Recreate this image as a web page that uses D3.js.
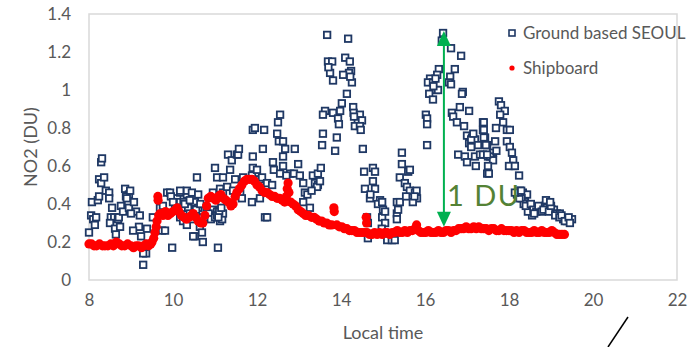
<!DOCTYPE html>
<html>
<head>
<meta charset="utf-8">
<script src="https://cdn.jsdelivr.net/npm/d3@7"></script>
<style>
  body { margin: 0; background: #fff; }
  text { font-family: Lato, "Liberation Sans", sans-serif; fill: #595959; }
</style>
</head>
<body>
<div id="chart"></div>
<script>
const width = 693,
  height = 347;
const margin = { top: 14, right: 14, bottom: 67, left: 89 };

// ground based SEOUL, [local time, NO2 DU]
const ground = [
  [8.0,0.25],[8.05,0.34],[8.1,0.32],[8.14,0.29],[8.17,0.33],[8.07,0.41],[8.21,0.42],[8.24,0.44],[8.24,0.53],[8.29,0.51],
  [8.36,0.54],[8.29,0.62],[8.31,0.64],[8.4,0.47],[8.48,0.46],[8.48,0.43],[8.55,0.38],[8.52,0.33],[8.6,0.33],[8.5,0.3],
  [8.69,0.32],[8.62,0.27],[8.64,0.24],[8.71,0.33],[8.76,0.39],[8.81,0.36],[8.86,0.48],[8.93,0.41],[8.95,0.45],[8.95,0.38],
  [9.07,0.41],[9.12,0.36],[9.0,0.35],[8.88,0.44],[8.74,0.28],[9.19,0.28],[9.24,0.23],[9.29,0.08],[9.36,0.14],[9.29,0.14],
  [9.43,0.19],[9.52,0.33],[9.21,0.34],[9.38,0.27],[9.05,0.26],[8.9,0.43],[8.98,0.47],
  [9.69,0.38],[9.76,0.39],[9.74,0.26],[9.81,0.26],[9.86,0.46],[9.93,0.46],[9.98,0.17],[10.1,0.43],[10.17,0.46],
  [10.17,0.41],[10.05,0.38],[10.21,0.38],[10.17,0.33],[10.24,0.31],[10.33,0.45],[10.33,0.47],[10.36,0.38],[10.33,0.29],[10.45,0.46],
  [10.45,0.32],[10.52,0.41],[10.52,0.23],[10.48,0.23],[10.57,0.54],[10.6,0.45],[10.6,0.38],[10.64,0.28],[10.69,0.25],[10.71,0.2],
  [10.71,0.33],[10.81,0.33],[10.93,0.37],[10.95,0.34],[10.95,0.46],[11.0,0.59],[11.05,0.54],[11.07,0.17],[11.12,0.48],[11.12,0.37],
  [11.12,0.31],[11.17,0.32],[11.19,0.35],[11.19,0.46],[11.19,0.54],[11.29,0.49],[11.31,0.66],[11.36,0.58],[11.4,0.63],[11.43,0.47],
  [11.48,0.53],[11.52,0.66],[11.55,0.66],[11.57,0.69],[11.6,0.46],[11.64,0.43],[11.67,0.54],[11.88,0.55],[11.88,0.41],[11.9,0.59],
  [11.9,0.65],[11.9,0.79],[11.95,0.8],[12.0,0.58],[12.07,0.53],[12.07,0.43],[12.12,0.54],[12.14,0.69],[12.17,0.79],[12.19,0.33],
  [12.24,0.51],[12.24,0.33],[12.36,0.5],[12.38,0.62],[12.4,0.58],[12.48,0.77],[12.5,0.83],[12.55,0.87],[12.52,0.73],[12.62,0.73],
  [12.62,0.65],[12.67,0.69],[12.55,0.56],[12.62,0.6],[12.79,0.56],[12.7,0.55],[10.4,0.35],[10.25,0.41],[9.95,0.44],[10.0,0.41],
  [10.28,0.4],[10.4,0.42],[10.55,0.37],[10.65,0.4],[10.8,0.38],[10.85,0.35],[10.9,0.32],[11.0,0.33],[11.05,0.36],[10.17,0.47],
  [11.05,0.34],[11.1,0.36],[11.15,0.38],[11.08,0.33],
  [12.9,0.69],[12.98,0.61],[12.88,0.56],[13.02,0.55],[13.1,0.51],[13.14,0.46],[13.1,0.41],[13.26,0.38],[13.33,0.55],[13.45,0.56],
  [13.52,0.59],[13.38,0.51],[13.45,0.5],[13.43,0.49],[13.57,0.77],[13.55,0.71],[13.2,0.45],[13.3,0.47],[13.5,0.52],
  [13.67,1.29],[14.17,1.27],[13.69,1.15],[13.79,1.15],[13.74,1.09],[13.81,1.05],[14.1,1.17],[14.21,1.15],[14.24,1.1],[14.19,1.09],
  [14.05,1.08],[14.26,1.04],[14.14,0.98],[14.02,0.93],[13.98,0.89],[13.62,0.89],[13.57,0.87],[13.81,0.88],[13.93,0.85],[13.95,0.82],
  [14.29,0.91],[14.3,0.88],[14.45,0.87],[14.4,0.84],[14.5,0.84],[14.33,0.81],[14.45,0.81],[13.9,0.75],[13.86,0.68],[14.52,0.69],
  [13.7,1.12],[14.22,1.07],[14.31,0.86],[14.47,0.79],
  [14.55,0.57],[14.76,0.59],[14.81,0.57],[14.76,0.52],[14.57,0.48],[14.81,0.48],[14.69,0.43],[14.93,0.42],[14.88,0.4],[14.98,0.41],
  [14.62,0.33],[14.64,0.3],[14.64,0.22],[14.98,0.33],[15.05,0.3],[15.1,0.21],[15.21,0.21],[15.33,0.35],[15.33,0.41],[14.7,0.45],
  [15.0,0.37],[15.05,0.36],[14.97,0.27],
  [15.45,0.67],[15.45,0.61],[15.4,0.54],[15.52,0.51],[15.6,0.57],[15.64,0.58],[15.57,0.49],[15.64,0.47],[15.76,0.46],[15.81,0.43],
  [15.71,0.41],[15.4,0.41],[15.36,0.37],[15.33,0.32],[15.28,0.21],[15.55,0.44],[15.8,0.47],[15.75,0.44],
  [16.43,1.3],[16.4,1.26],[16.62,1.22],[16.86,1.18],[16.71,1.11],[16.33,1.11],[16.29,1.08],[16.12,1.06],[16.07,1.04],[16.19,1.04],
  [16.26,1.0],[16.31,1.0],[16.1,0.98],[16.19,0.95],[16.6,1.07],[16.57,1.04],[16.62,1.03],[16.9,0.99],[16.88,0.98],[16.83,0.91],
  [17.05,0.89],[16.64,0.88],[16.67,0.86],[16.76,0.83],[16.93,0.81],[17.38,0.83],[17.38,0.79],[17.0,0.76],[17.12,0.75],[17.05,0.72],
  [17.19,0.74],[17.26,0.71],[17.43,0.75],[17.48,0.71],[16.79,0.66],[16.95,0.65],[17.0,0.62],[17.19,0.65],[17.31,0.66],[17.21,0.6],
  [17.38,0.66],[17.5,0.65],[17.48,0.56],[16.02,0.87],[16.05,0.85],[16.05,0.82],[16.05,0.71],[16.2,1.02],[16.25,1.06],[17.1,0.74],
  [17.15,0.77],[17.1,0.7],
  [17.76,0.94],[17.81,0.92],[17.9,0.89],[17.79,0.87],[17.86,0.83],[17.69,0.8],[17.95,0.79],[18.02,0.79],[17.4,0.83],[17.4,0.79],
  [17.4,0.75],[17.45,0.71],[17.67,0.73],[17.95,0.73],[18.02,0.7],[18.07,0.67],[17.62,0.67],[17.55,0.65],[17.62,0.63],[17.48,0.66],
  [17.5,0.6],[17.52,0.56],[18.1,0.63],[18.1,0.6],[18.0,0.6],[18.14,0.6],[18.24,0.55],[17.7,0.68],
  [18.19,0.45],[18.26,0.47],[18.33,0.46],[18.43,0.45],[18.38,0.41],[18.5,0.38],[18.62,0.38],[18.74,0.38],[18.86,0.39],[18.88,0.42],
  [18.9,0.38],[19.02,0.37],[19.07,0.37],[19.14,0.35],[19.21,0.35],[19.29,0.32],[19.38,0.31],[19.5,0.32],[18.55,0.34],[18.45,0.36],
  [18.3,0.43],[18.35,0.4],[18.4,0.39],[18.52,0.4],[18.58,0.37],[18.65,0.36],[18.7,0.39],[18.78,0.36],[18.82,0.37],[18.95,0.36],
  [19.0,0.39],[19.1,0.34],[19.2,0.33],[19.25,0.34],[19.33,0.31],[19.42,0.33],[19.45,0.3],[18.25,0.43],[18.22,0.46],[18.98,0.41],
  [18.6,0.35],[18.14,0.46],[18.29,0.47]
];

// shipboard, [local time, NO2 DU]
const ship = [
  [8.0,0.19],[8.06,0.19],[8.12,0.18],[8.18,0.18],[8.25,0.19],[8.32,0.18],[8.38,0.18],[8.45,0.18],[8.52,0.19],[8.58,0.18],
  [8.65,0.2],[8.72,0.19],[8.78,0.18],[8.85,0.18],[8.92,0.19],[9.0,0.18],[9.06,0.17],[9.12,0.18],[9.18,0.18],[9.25,0.17],
  [9.3,0.18],[9.36,0.19],[9.42,0.18],[9.47,0.19],[9.5,0.2],[9.54,0.22],[9.57,0.25],[9.6,0.28],[9.62,0.31],[9.64,0.44],
  [9.645,0.42],[9.66,0.34],[9.7,0.35],[9.76,0.34],[9.82,0.36],[9.88,0.34],[9.94,0.35],[10.0,0.36],[10.06,0.37],[10.1,0.38],
  [10.14,0.36],[10.2,0.34],[10.26,0.33],[10.32,0.32],[10.38,0.33],[10.44,0.34],[10.48,0.35],[10.54,0.33],[10.6,0.31],[10.66,0.3],
  [10.71,0.3],[10.76,0.34],[10.8,0.39],[10.84,0.43],[10.9,0.44],[10.96,0.43],[11.02,0.42],[11.08,0.44],[11.14,0.45],[11.2,0.43],
  [11.26,0.42],[11.32,0.41],[11.38,0.39],[11.43,0.4],[11.48,0.44],[11.52,0.46],[11.58,0.48],[11.64,0.5],[11.7,0.52],[11.76,0.53],
  [11.82,0.53],[11.88,0.53],[11.94,0.52],[12.0,0.5],[12.06,0.49],[12.12,0.47],[12.18,0.46],[12.24,0.46],[12.3,0.45],[12.36,0.44],
  [12.42,0.44],[12.48,0.43],[12.54,0.43],[12.6,0.42],[12.66,0.41],[12.7,0.44],[12.72,0.48],[12.74,0.51],[12.76,0.46],[12.8,0.41],
  [12.86,0.4],[12.92,0.39],[12.98,0.37],[13.04,0.36],[13.1,0.35],[13.16,0.34],[13.22,0.34],[13.3,0.33],[13.36,0.33],[13.42,0.32],
  [13.48,0.31],[13.54,0.31],[13.6,0.3],[13.66,0.3],[13.72,0.29],[13.78,0.29],[13.83,0.38],[13.84,0.36],[13.9,0.29],[13.96,0.28],
  [14.02,0.28],[14.08,0.27],[14.14,0.27],[14.2,0.26],[14.26,0.26],[14.32,0.26],[14.38,0.25],[14.44,0.25],[14.5,0.25],[14.56,0.25],
  [14.6,0.33],[14.61,0.3],[14.62,0.25],[14.68,0.24],[14.74,0.24],[14.8,0.25],[14.86,0.24],[14.92,0.25],[14.98,0.24],[15.04,0.25],
  [15.1,0.25],[15.16,0.24],[15.22,0.25],[15.28,0.25],[15.34,0.26],[15.4,0.25],[15.46,0.25],[15.52,0.26],[15.58,0.25],[15.64,0.26],
  [15.7,0.26],[15.76,0.27],[15.8,0.29],[15.84,0.26],[15.9,0.25],[15.96,0.25],[16.02,0.25],[16.08,0.26],[16.14,0.25],[16.2,0.25],
  [16.26,0.25],[16.32,0.26],[16.38,0.25],[16.44,0.25],[16.5,0.26],[16.56,0.26],[16.62,0.25],[16.68,0.26],[16.74,0.26],[16.8,0.27],
  [16.86,0.27],[16.92,0.27],[16.98,0.28],[17.04,0.27],[17.1,0.27],[17.16,0.28],[17.22,0.27],[17.28,0.28],[17.34,0.27],[17.4,0.27],
  [17.46,0.27],[17.52,0.26],[17.58,0.27],[17.64,0.27],[17.7,0.26],[17.76,0.26],[17.82,0.27],[17.88,0.26],[17.94,0.26],[18.0,0.26],
  [18.06,0.26],[18.12,0.25],[18.18,0.26],[18.24,0.25],[18.3,0.26],[18.36,0.26],[18.42,0.25],[18.48,0.25],[18.54,0.25],[18.6,0.26],
  [18.66,0.25],[18.72,0.25],[18.78,0.26],[18.84,0.25],[18.9,0.25],[18.96,0.25],[19.02,0.26],[19.08,0.25],[19.14,0.24],[19.2,0.24],
  [19.26,0.24],[19.32,0.24]
];

const xTicks = [8, 10, 12, 14, 16, 18, 20, 22];
const yTicks = [0, 0.2, 0.4, 0.6, 0.8, 1, 1.2, 1.4];
const seriesNames = ["Ground based SEOUL", "Shipboard"];

// "1 DU" annotation
const arrowTime = 16.45;
const arrowRange = [0.28, 1.31];
const arrowLabel = "1 DU";

const x = d3.scaleLinear().domain([8, 22]).range([margin.left, width - margin.right - 2]);
const y = d3.scaleLinear().domain([0, 1.4]).range([height - margin.bottom, margin.top]);

const svg = d3
  .select("#chart")
  .append("svg")
  .attr("width", width)
  .attr("height", height);

// plot frame
svg
  .append("rect")
  .attr("x", x(8))
  .attr("y", y(1.4))
  .attr("width", x(22) - x(8))
  .attr("height", y(0) - y(1.4))
  .attr("fill", "none")
  .attr("stroke", "#d9d9d9")
  .attr("stroke-width", 1.5);

const xAxis = svg
  .append("g")
  .attr("transform", `translate(0,${y(0)})`)
  .call(d3.axisBottom(x).tickValues(xTicks).tickSize(0).tickPadding(14).tickFormat(d3.format("d")));
xAxis.select(".domain").remove();
xAxis.selectAll("text").style("font-size", "17px").attr("fill", "#595959");

const yAxis = svg
  .append("g")
  .attr("transform", `translate(${x(8)},0)`)
  .call(d3.axisLeft(y).tickValues(yTicks).tickSize(0).tickPadding(18).tickFormat((d) => String(d)));
yAxis.select(".domain").remove();
yAxis.selectAll("text").style("font-size", "17px").attr("fill", "#595959");

svg
  .append("text")
  .attr("x", (x(8) + x(22)) / 2)
  .attr("y", 339)
  .attr("text-anchor", "middle")
  .style("font-size", "18px")
  .text("Local time");

svg
  .append("text")
  .attr("transform", `translate(37,${(y(0) + y(1.4)) / 2}) rotate(-90)`)
  .attr("text-anchor", "middle")
  .style("font-size", "18px")
  .text("NO2 (DU)");

// ground based squares
svg
  .selectAll(".ground")
  .data(ground)
  .enter()
  .append("rect")
  .attr("class", "ground")
  .attr("x", (d) => x(d[0]) - 3.25)
  .attr("y", (d) => y(d[1]) - 3.25)
  .attr("width", 6.5)
  .attr("height", 6.5)
  .attr("fill", "#fff")
  .attr("stroke", "#1f3864")
  .attr("stroke-width", 1.8);

// shipboard dots
svg
  .selectAll(".ship")
  .data(ship)
  .enter()
  .append("circle")
  .attr("class", "ship")
  .attr("cx", (d) => x(d[0]))
  .attr("cy", (d) => y(d[1]))
  .attr("r", 4.6)
  .attr("fill", "#ff0000");

// 1 DU arrow
const green = "#00b050";
svg
  .append("line")
  .attr("x1", x(arrowTime))
  .attr("x2", x(arrowTime))
  .attr("y1", y(arrowRange[0]) - 12)
  .attr("y2", y(arrowRange[1]) + 12)
  .attr("stroke", green)
  .attr("stroke-width", 2);
[[arrowRange[1], 1], [arrowRange[0], -1]].forEach(([v, dir]) => {
  const ax = x(arrowTime),
    ay = y(v);
  svg
    .append("path")
    .attr("d", `M${ax},${ay} L${ax - 7},${ay + dir * 15} L${ax + 7},${ay + dir * 15} Z`)
    .attr("fill", green);
});
svg
  .append("text")
  .attr("x", x(arrowTime) + 3)
  .attr("y", y(0.39))
  .style("font-size", "29px")
  .style("letter-spacing", "1.5px")
  .style("fill", "#548235")
  .text(arrowLabel);

// legend
const legend = svg.append("g").attr("transform", "translate(512,33)");
legend
  .append("rect")
  .attr("x", -3)
  .attr("y", -3)
  .attr("width", 6)
  .attr("height", 6)
  .attr("fill", "#fff")
  .attr("stroke", "#1f3864")
  .attr("stroke-width", 1.6);
legend
  .append("circle")
  .attr("cy", 35)
  .attr("r", 2.6)
  .attr("fill", "#ff0000");
legend
  .selectAll(".legend-label")
  .data(seriesNames)
  .enter()
  .append("text")
  .attr("x", 11)
  .attr("y", (d, i) => i * 35)
  .attr("dy", "0.35em")
  .style("font-size", "17px")
  .text((d) => d);

// stray pen stroke at the bottom right
svg
  .append("line")
  .attr("x1", 608)
  .attr("y1", 347)
  .attr("x2", 628)
  .attr("y2", 317)
  .attr("stroke", "#000")
  .attr("stroke-width", 1.5);
</script>
</body>
</html>
